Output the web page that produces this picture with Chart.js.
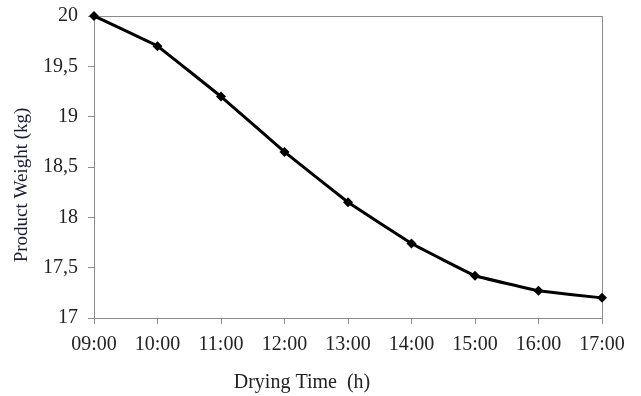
<!DOCTYPE html>
<html lang="en">
<head>
  <meta charset="UTF-8">
  <title>Drying curve</title>
  <script src="https://cdn.jsdelivr.net/npm/chart.js"></script>
  <style>
    html, body { margin: 0; padding: 0; background: #fff; }
    #wrap { width: 641px; height: 396px; }
  </style>
</head>
<body>
  <div id="wrap"><canvas id="chartCanvas" width="641" height="396"></canvas></div>
  <script>
    // Datos
    const hours = ['09:00', '10:00', '11:00', '12:00', '13:00', '14:00', '15:00', '16:00', '17:00'];
    const weight = [20, 19.7, 19.2, 18.65, 18.15, 17.74, 17.42, 17.27, 17.2];
    const yTicks = [17, 17.5, 18, 18.5, 19, 19.5, 20];
    const xTitle = 'Drying Time  (h)';
    const yTitle = 'Product Weight (kg)';

    const family = '"Liberation Serif", "Times New Roman", serif';
    const font = { family, size: 20 };

    // marco gris alrededor del área
    const frame = {
      id: 'frame',
      beforeDatasetsDraw(chart) {
        const a = chart.chartArea, c = chart.ctx;
        c.save();
        c.strokeStyle = '#8c8c8c';
        c.lineWidth = 1;
        c.strokeRect(a.left + 0.5, a.top + 0.5, a.right - a.left, a.bottom - a.top);
        c.restore();
      }
    };

    // títulos de ejes (no centrados en el original)
    const titles = {
      id: 'titles',
      afterDraw(chart) {
        const c = chart.ctx;
        c.save();
        c.textAlign = 'center';
        c.textBaseline = 'middle';
        c.fillStyle = '#222';
        c.font = '20px ' + family;
        c.fillText(xTitle, 302, 383);
        c.translate(22, 185);
        c.rotate(-Math.PI / 2);
        c.fillStyle = '#1c1c3a';
        c.font = '19px ' + family;
        c.fillText(yTitle, 0, 0);
        c.restore();
      }
    };

    new Chart(document.getElementById('chartCanvas'), {
      type: 'line',
      data: {
        labels: hours,
        datasets: [{
          data: weight,
          borderColor: '#000',
          backgroundColor: '#000',
          borderWidth: 3,
          pointStyle: 'rectRot',
          pointRadius: 5,
          pointBorderWidth: 0,
          tension: 0.05,
          clip: false,
          fill: false
        }]
      },
      options: {
        responsive: false,
        animation: false,
        layout: { padding: { top: 16, right: 39, bottom: 0, left: 0 } },
        plugins: { legend: { display: false }, tooltip: { enabled: false } },
        scales: {
          x: {
            offset: false,
            afterFit: s => { s.height = 78; s.paddingLeft = 0; s.paddingRight = 0; },
            grid: { display: true, drawOnChartArea: false, drawTicks: true, tickLength: 6, color: '#8c8c8c' },
            border: { display: true, color: '#8c8c8c' },
            ticks: { color: '#222', font, padding: 9, maxRotation: 0, autoSkip: false }
          },
          y: {
            min: 17, max: 20,
            afterBuildTicks: axis => { axis.ticks = yTicks.map(v => ({ value: v })); },
            afterFit: s => { s.width = 94; s.paddingTop = 0; s.paddingBottom = 0; },
            grid: { display: true, drawOnChartArea: false, drawTicks: true, tickLength: 6, color: '#8c8c8c' },
            border: { display: true, color: '#8c8c8c' },
            ticks: { color: '#222', font, padding: 10, callback: v => String(v).replace('.', ',') }
          }
        }
      },
      plugins: [frame, titles]
    });
  </script>
</body>
</html>
